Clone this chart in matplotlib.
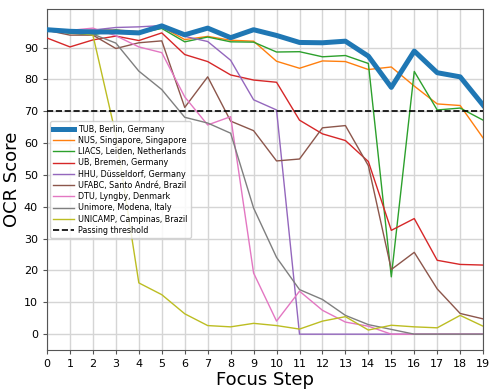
import matplotlib
matplotlib.use("Agg")
import matplotlib.pyplot as plt
import numpy as np

steps = list(range(20))

tub = [95.6, 95.1, 94.9, 94.9, 94.6, 96.8, 94.0, 96.1, 93.1, 95.6, 93.8, 91.6, 91.5, 92.0, 87.3, 77.5, 88.9, 82.1, 80.8, 71.9]
nus = [95.5, 95.0, 95.5, 95.5, 95.0, 96.5, 92.5, 93.5, 92.3, 92.0, 85.7, 83.5, 85.8, 85.6, 83.1, 83.9, 77.9, 72.3, 71.8, 61.6]
liacs = [95.5, 94.5, 94.0, 95.5, 94.5, 96.0, 91.8, 93.3, 91.8, 91.7, 88.6, 88.7, 87.1, 87.5, 85.0, 18.0, 82.5, 70.4, 71.0, 67.2]
ub = [93.0, 90.2, 92.4, 93.6, 92.2, 94.6, 87.8, 85.6, 81.4, 79.8, 79.1, 67.2, 62.9, 60.8, 54.2, 32.6, 36.3, 23.2, 21.9, 21.7]
hhu = [95.6, 95.0, 95.5, 96.3, 96.5, 96.9, 93.5, 91.9, 86.0, 73.6, 70.4, 0, 0, 0, 0, 0, 0, 0, 0, 0]
ufabc = [95.4, 93.9, 93.9, 89.7, 91.5, 92.1, 71.2, 80.8, 66.9, 63.9, 54.4, 55.0, 64.8, 65.5, 52.9, 20.3, 25.7, 14.2, 6.5, 4.8]
dtu = [95.6, 95.4, 96.1, 93.7, 90.2, 88.4, 74.5, 65.7, 68.3, 19.2, 4.1, 13.5, 7.5, 3.8, 2.5, 0, 0, 0, 0, 0]
unimore = [95.5, 95.0, 94.2, 91.4, 82.6, 76.8, 68.1, 66.3, 63.1, 39.6, 24.1, 14.0, 10.9, 5.9, 3.0, 1.5, 0, 0, 0, 0]
unicamp = [95.5, 95.0, 93.9, 62.5, 16.1, 12.4, 6.4, 2.7, 2.3, 3.4, 2.7, 1.6, 4.1, 5.5, 1.3, 2.8, 2.3, 2.0, 5.9, 2.5]

labels = ["TUB, Berlin, Germany", "NUS, Singapore, Singapore", "LIACS, Leiden, Netherlands",
          "UB, Bremen, Germany", "HHU, Düsseldorf, Germany", "UFABC, Santo André, Brazil",
          "DTU, Lyngby, Denmark", "Unimore, Modena, Italy", "UNICAMP, Campinas, Brazil"]
series = [tub, nus, liacs, ub, hhu, ufabc, dtu, unimore, unicamp]
colors = ["#1f77b4", "#ff7f0e", "#2ca02c", "#d62728", "#9467bd", "#8c564b", "#e377c2", "#7f7f7f", "#bcbd22"]
threshold = 70

fig = plt.figure(figsize=(4.95, 3.89), dpi=100)
ax = fig.add_axes([0.095, 0.1, 0.881, 0.876])

order = [1, 2, 3, 4, 5, 6, 7, 8, 0]
handles = {}
for i in order:
    lw = 3.6 if i == 0 else 1.0
    h, = ax.plot(steps, series[i], color=colors[i], lw=lw, label=labels[i], zorder=3 if i else 4)
    handles[i] = h
th = ax.axhline(threshold, color="black", ls="--", lw=1.2, label="Passing threshold", zorder=5)

ax.legend([handles[i] for i in range(9)] + [th], labels + ["Passing threshold"],
          loc="center left", fontsize=5.8, framealpha=0.85, borderaxespad=0.4,
          handlelength=2.6, handletextpad=0.5, labelspacing=0.28)

ax.set_xlim(0, 19)
ax.set_ylim(-5, 102)
ax.set_xticks(steps)
ax.set_yticks(range(0, 100, 10))
ax.tick_params(labelsize=8, length=3, color="#555555")
ax.grid(True, color="#d5d5d5", lw=1.0)
ax.set_axisbelow(True)
for s in ax.spines.values():
    s.set_color("#555555")
ax.set_xlabel("Focus Step", fontsize=13, labelpad=1)
ax.set_ylabel("OCR Score", fontsize=13, labelpad=2)

fig.savefig("out.png", dpi=100)
